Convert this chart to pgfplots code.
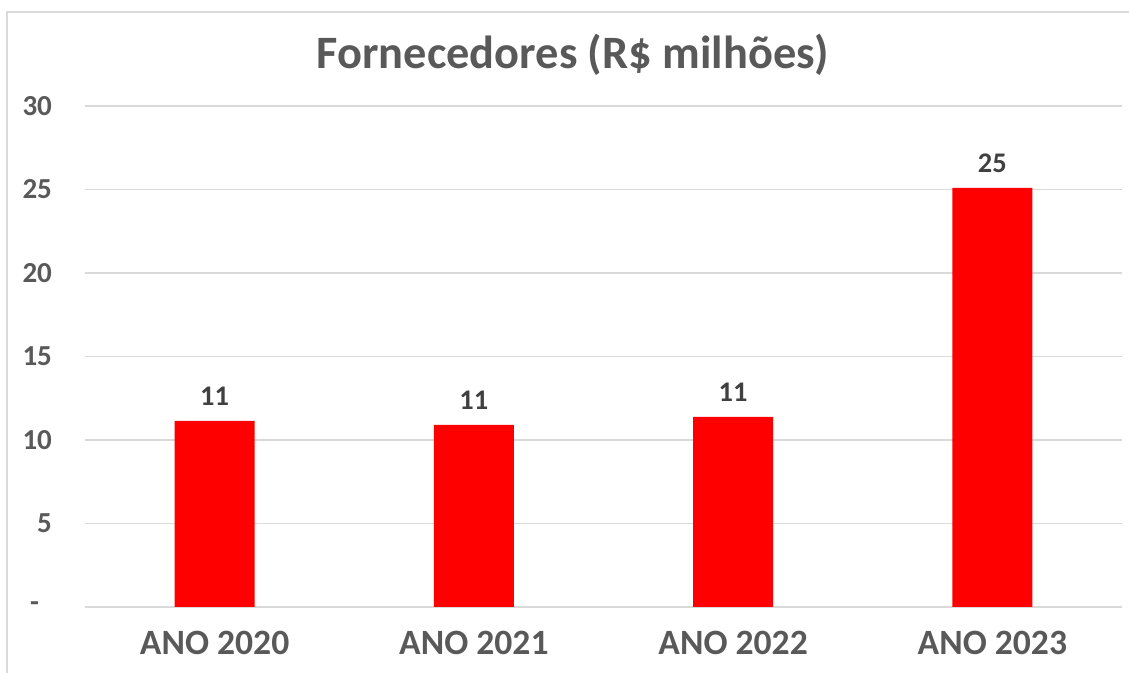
\documentclass[border=0pt]{standalone}
\usepackage{pgfplots}
\pgfplotsset{compat=1.18}
\usepackage{fontspec}
\setmainfont{Carlito}
\definecolor{lbl}{HTML}{595959}
\definecolor{dl}{HTML}{404040}
\definecolor{grd}{HTML}{D9D9D9}
\definecolor{bar}{HTML}{FF0000}
\newcommand{\yl}[1]{{\fontsize{14.5}{16}\selectfont\bfseries\color{lbl}#1}}
\begin{document}
\begin{tikzpicture}
\useasboundingbox (0,0) rectangle (564.5pt,336.5pt);
\draw[grd, line width=0.6pt] (3.5pt,0) -- (3.5pt,330.5pt) -- (564.5pt,330.5pt);
\node[font=\bfseries\fontsize{23.2}{27}\selectfont, text=lbl] at (286.5pt,309pt) {Fornecedores (R\$ milhões)};
\begin{axis}[
  at={(42.5pt,33pt)}, anchor=south west,
  scale only axis, width=518.5pt, height=250.5pt,
  xmin=-0.5, xmax=3.5, ymin=0, ymax=30,
  axis line style={draw=none},
  ytick={0,5,10,15,20,25,30},
  yticklabels={{\yl{-\hspace{6.5pt}}},\yl{5},\yl{10},\yl{15},\yl{20},\yl{25},\yl{30}},
  xtick={0,1,2,3},
  xticklabels={ANO 2020,ANO 2021,ANO 2022,ANO 2023},
  major tick length=0pt,
  ymajorgrids, grid style={grd, line width=0.75pt},
  yticklabel style={anchor=east, xshift=-13pt},
  xticklabel style={font=\bfseries\fontsize{17.8}{20}\selectfont, text=lbl, anchor=center, yshift=-18pt},
  /pgf/number format/assume math mode=true,
  ybar, bar width=40pt,
  nodes near coords={\pgfmathprintnumber[fixed,precision=0]{\pgfplotspointmeta}},
  every node near coord/.append style={font=\bfseries\fontsize{14.2}{16}\selectfont, text=dl, anchor=base, yshift=7.5pt},
]
\addplot[fill=bar, draw=none] coordinates {(0,11.14) (1,10.90) (2,11.38) (3,25.09)};
\end{axis}
\end{tikzpicture}
\end{document}
